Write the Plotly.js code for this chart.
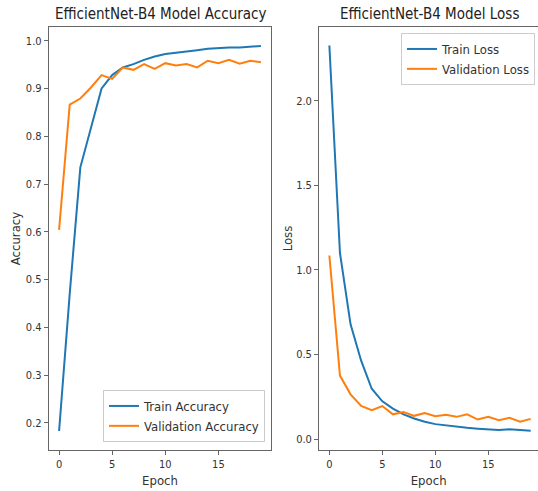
<!DOCTYPE html>
<html>
<head>
<meta charset="utf-8">
<script src="https://cdn.plot.ly/plotly-3.0.1.min.js"></script>
<style>html,body{margin:0;padding:0;background:#fff;overflow:hidden;}#chart{width:538px;height:491px;}</style>
</head>
<body>
<div id="chart"></div>
<script>
const epochs = [0,1,2,3,4,5,6,7,8,9,10,11,12,13,14,15,16,17,18,19];
const trainAcc = [0.183,0.47,0.735,0.815,0.900,0.928,0.944,0.951,0.960,0.967,0.972,0.975,0.977,0.980,0.983,0.985,0.986,0.986,0.987,0.989];
const valAcc = [0.604,0.866,0.879,0.902,0.928,0.920,0.944,0.939,0.951,0.941,0.953,0.948,0.951,0.944,0.958,0.953,0.960,0.952,0.958,0.955];
const trainLoss = [2.327,1.10,0.678,0.463,0.297,0.223,0.180,0.146,0.121,0.102,0.088,0.080,0.072,0.066,0.061,0.057,0.053,0.057,0.051,0.049];
const valLoss = [1.085,0.375,0.264,0.195,0.170,0.195,0.146,0.160,0.137,0.154,0.135,0.143,0.131,0.146,0.115,0.131,0.111,0.125,0.102,0.119];
const accTicks = [0.2,0.3,0.4,0.5,0.6,0.7,0.8,0.9,1.0];
const lossTicks = [0.0,0.5,1.0,1.5,2.0];
const epochTicks = [0,5,10,15];

const FONT = '"DejaVu Sans Condensed", "Liberation Sans", sans-serif';
const TXT = '#333333';
const FRAME = '#666666';
const BLUE = '#1f77b4', ORANGE = '#ff7f0e';

const traces = [
  {x: epochs, y: trainAcc, name: 'Train Accuracy', type: 'scatter', mode: 'lines', line: {color: BLUE, width: 2}, xaxis: 'x', yaxis: 'y', legend: 'legend'},
  {x: epochs, y: valAcc, name: 'Validation Accuracy', type: 'scatter', mode: 'lines', line: {color: ORANGE, width: 2}, xaxis: 'x', yaxis: 'y', legend: 'legend'},
  {x: epochs, y: trainLoss, name: 'Train Loss', type: 'scatter', mode: 'lines', line: {color: BLUE, width: 2}, xaxis: 'x2', yaxis: 'y2', legend: 'legend2'},
  {x: epochs, y: valLoss, name: 'Validation Loss', type: 'scatter', mode: 'lines', line: {color: ORANGE, width: 2}, xaxis: 'x2', yaxis: 'y2', legend: 'legend2'}
];

function axisBase(extra) {
  return Object.assign({
    showgrid: false, zeroline: false, showline: true, linecolor: FRAME, linewidth: 1.2,
    ticks: 'outside', ticklen: 4, tickwidth: 1, tickcolor: FRAME,
    tickfont: {family: FONT, size: 11, color: TXT}
  }, extra);
}

const layout = {
  width: 538, height: 491,
  margin: {l: 0, r: 0, t: 0, b: 0},
  paper_bgcolor: '#ffffff', plot_bgcolor: '#ffffff',
  font: {family: FONT, color: TXT},
  xaxis: axisBase({domain: [49/538, 271/538], range: [-0.95, 19.95], tickvals: epochTicks, mirror: true, anchor: 'y',
    title: {text: 'Epoch', font: {family: FONT, size: 13, color: TXT}, standoff: 5}}),
  yaxis: axisBase({domain: [1 - 450/491, 1 - 27/491], range: [0.1432, 1.0287], tickvals: accTicks, ticktext: accTicks.map(v => v.toFixed(1)), mirror: true, anchor: 'x',
    title: {text: 'Accuracy', font: {family: FONT, size: 13, color: TXT}, standoff: 2}}),
  xaxis2: axisBase({domain: [319.3/538, 1], range: [-0.95, 19.69], tickvals: epochTicks, mirror: true, anchor: 'y2',
    title: {text: 'Epoch', font: {family: FONT, size: 13, color: TXT}, standoff: 5}}),
  yaxis2: axisBase({domain: [1 - 450/491, 1 - 27/491], range: [-0.065, 2.436], tickvals: lossTicks, ticktext: lossTicks.map(v => v.toFixed(1)), anchor: 'x2',
    title: {text: 'Loss', font: {family: FONT, size: 13, color: TXT}, standoff: 0}}),
  legend: {x: 265/538, y: 1 - 442/491, xanchor: 'right', yanchor: 'bottom', bgcolor: 'rgba(255,255,255,0.8)', bordercolor: '#cccccc', borderwidth: 1,
    font: {family: FONT, size: 13, color: TXT}, tracegroupgap: 0, itemwidth: 30},
  legend2: {x: 535/538, y: 1 - 33/491, xanchor: 'right', yanchor: 'top', bgcolor: 'rgba(255,255,255,0.8)', bordercolor: '#cccccc', borderwidth: 1,
    font: {family: FONT, size: 13, color: TXT}, tracegroupgap: 0, itemwidth: 30},
  annotations: [
    {text: 'EfficientNet-B4 Model Accuracy', xref: 'paper', yref: 'paper', x: 160/538, y: 1 - 14/491, xanchor: 'center', yanchor: 'middle', showarrow: false, font: {family: FONT, size: 15, color: '#222222'}},
    {text: 'EfficientNet-B4 Model Loss', xref: 'paper', yref: 'paper', x: 429/538, y: 1 - 14/491, xanchor: 'center', yanchor: 'middle', showarrow: false, font: {family: FONT, size: 15, color: '#222222'}}
  ],
  showlegend: true
};

Plotly.newPlot('chart', traces, layout, {displayModeBar: false, staticPlot: true});
</script>
</body>
</html>
